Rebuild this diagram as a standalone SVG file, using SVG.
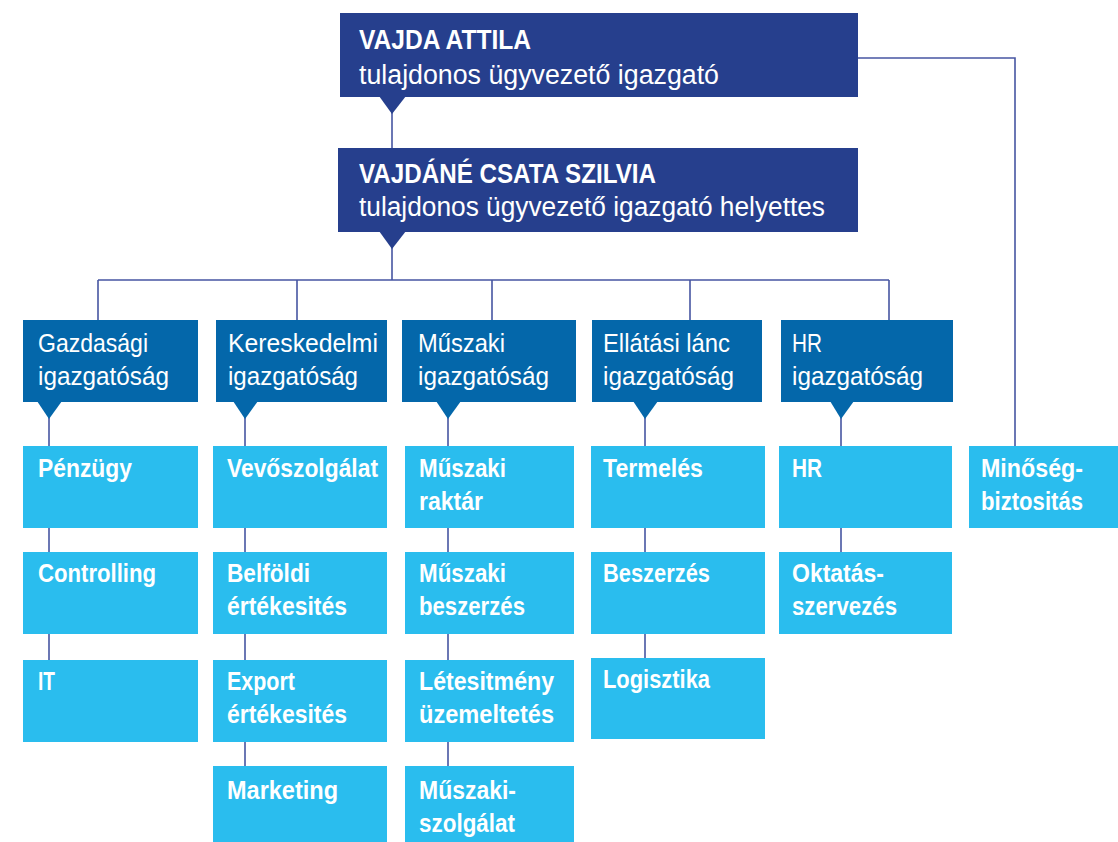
<svg xmlns="http://www.w3.org/2000/svg" width="1118" height="842" viewBox="0 0 1118 842">
<style>
.top{fill:#263f8d}
.hdr{fill:#0467aa}
.leaf{fill:#2abdee}
.t{font-family:"Liberation Sans",Arial,sans-serif;fill:#ffffff}
.t1{font-size:28px;font-weight:bold}
.t2{font-size:27px}
.th{font-size:25.5px}
.tl{font-size:25.5px;font-weight:bold}
.ln{fill:none;stroke:#4756a2;stroke-width:1.6}
</style>
<g id="connectors">
<path class="ln" d="M392 112V149M392 247V280M98 280H889M98 280V320M297 280V320M492 280V320M690 280V320M889 280V320"/>
<path class="ln" d="M858 58H1015V446"/>
<path class="ln" d="M49 417V446M49 528V552M49 634V660"/>
<path class="ln" d="M245 417V446M245 528V552M245 634V660M245 742V766"/>
<path class="ln" d="M448 417V446M448 528V552M448 634V660M448 742V766"/>
<path class="ln" d="M645 417V446M645 528V552M645 634V658"/>
<path class="ln" d="M841 417V446M841 528V552"/>
</g>
<g id="vajda-attila">
<rect class="top" x="340" y="13" width="518" height="84"/>
<polygon class="top" points="379,96 406,96 392,114"/>
<text class="t t1" x="359" y="49" textLength="172" lengthAdjust="spacingAndGlyphs">VAJDA ATTILA</text>
<text class="t t2" x="359" y="84" textLength="360" lengthAdjust="spacingAndGlyphs">tulajdonos ügyvezető igazgató</text>
</g>
<g id="vajdane-csata-szilvia">
<rect class="top" x="338" y="148" width="520" height="84"/>
<polygon class="top" points="379,231 406,231 392,249"/>
<text class="t t1" x="359" y="183" textLength="297" lengthAdjust="spacingAndGlyphs">VAJDÁNÉ CSATA SZILVIA</text>
<text class="t t2" x="359" y="216" textLength="466" lengthAdjust="spacingAndGlyphs">tulajdonos ügyvezető igazgató helyettes</text>
</g>
<g id="gazdasagi">
<rect class="hdr" x="23" y="320" width="175" height="82"/>
<polygon class="hdr" points="37,401 62,401 49,419"/>
<text class="t th" x="38" y="352" textLength="110" lengthAdjust="spacingAndGlyphs">Gazdasági</text>
<text class="t th" x="38" y="385" textLength="131" lengthAdjust="spacingAndGlyphs">igazgatóság</text>
</g>
<g id="kereskedelmi">
<rect class="hdr" x="216" y="320" width="171" height="82"/>
<polygon class="hdr" points="233,401 258,401 245,419"/>
<text class="t th" x="228" y="352" textLength="150" lengthAdjust="spacingAndGlyphs">Kereskedelmi</text>
<text class="t th" x="228" y="385" textLength="130" lengthAdjust="spacingAndGlyphs">igazgatóság</text>
</g>
<g id="muszaki">
<rect class="hdr" x="402" y="320" width="174" height="82"/>
<polygon class="hdr" points="436,401 461,401 448,419"/>
<text class="t th" x="418" y="352" textLength="87" lengthAdjust="spacingAndGlyphs">Műszaki</text>
<text class="t th" x="418" y="385" textLength="131" lengthAdjust="spacingAndGlyphs">igazgatóság</text>
</g>
<g id="ellatasi-lanc">
<rect class="hdr" x="592" y="320" width="170" height="82"/>
<polygon class="hdr" points="633,401 658,401 645,419"/>
<text class="t th" x="603" y="352" textLength="127" lengthAdjust="spacingAndGlyphs">Ellátási lánc</text>
<text class="t th" x="603" y="385" textLength="131" lengthAdjust="spacingAndGlyphs">igazgatóság</text>
</g>
<g id="hr-igazgatosag">
<rect class="hdr" x="781" y="320" width="172" height="82"/>
<polygon class="hdr" points="830,401 854,401 841,419"/>
<text class="t th" x="792" y="352" textLength="30" lengthAdjust="spacingAndGlyphs">HR</text>
<text class="t th" x="792" y="385" textLength="131" lengthAdjust="spacingAndGlyphs">igazgatóság</text>
</g>
<g id="penzugy">
<rect class="leaf" x="23" y="446" width="175" height="82"/>
<text class="t tl" x="38" y="477" textLength="94" lengthAdjust="spacingAndGlyphs">Pénzügy</text>
</g>
<g id="controlling">
<rect class="leaf" x="23" y="552" width="175" height="82"/>
<text class="t tl" x="38" y="582" textLength="118" lengthAdjust="spacingAndGlyphs">Controlling</text>
</g>
<g id="it">
<rect class="leaf" x="23" y="660" width="175" height="82"/>
<text class="t tl" x="38" y="690" textLength="17" lengthAdjust="spacingAndGlyphs">IT</text>
</g>
<g id="vevoszolgalat">
<rect class="leaf" x="213" y="446" width="174" height="82"/>
<text class="t tl" x="227" y="477" textLength="151" lengthAdjust="spacingAndGlyphs">Vevőszolgálat</text>
</g>
<g id="belfoldi-ertekesites">
<rect class="leaf" x="213" y="552" width="174" height="82"/>
<text class="t tl" x="227" y="582" textLength="83" lengthAdjust="spacingAndGlyphs">Belföldi</text>
<text class="t tl" x="227" y="615" textLength="120" lengthAdjust="spacingAndGlyphs">értékesités</text>
</g>
<g id="export-ertekesites">
<rect class="leaf" x="213" y="660" width="174" height="82"/>
<text class="t tl" x="227" y="690" textLength="68" lengthAdjust="spacingAndGlyphs">Export</text>
<text class="t tl" x="227" y="723" textLength="120" lengthAdjust="spacingAndGlyphs">értékesités</text>
</g>
<g id="marketing">
<rect class="leaf" x="213" y="766" width="174" height="76"/>
<text class="t tl" x="227" y="799" textLength="111" lengthAdjust="spacingAndGlyphs">Marketing</text>
</g>
<g id="muszaki-raktar">
<rect class="leaf" x="405" y="446" width="169" height="82"/>
<text class="t tl" x="419" y="477" textLength="87" lengthAdjust="spacingAndGlyphs">Műszaki</text>
<text class="t tl" x="419" y="510" textLength="64" lengthAdjust="spacingAndGlyphs">raktár</text>
</g>
<g id="muszaki-beszerzes">
<rect class="leaf" x="405" y="552" width="169" height="82"/>
<text class="t tl" x="419" y="582" textLength="87" lengthAdjust="spacingAndGlyphs">Műszaki</text>
<text class="t tl" x="419" y="615" textLength="106" lengthAdjust="spacingAndGlyphs">beszerzés</text>
</g>
<g id="letesitmeny">
<rect class="leaf" x="405" y="660" width="169" height="82"/>
<text class="t tl" x="419" y="690" textLength="135" lengthAdjust="spacingAndGlyphs">Létesitmény</text>
<text class="t tl" x="419" y="723" textLength="135" lengthAdjust="spacingAndGlyphs">üzemeltetés</text>
</g>
<g id="muszaki-szolgalat">
<rect class="leaf" x="405" y="766" width="169" height="76"/>
<text class="t tl" x="419" y="799" textLength="97" lengthAdjust="spacingAndGlyphs">Műszaki-</text>
<text class="t tl" x="419" y="832" textLength="96" lengthAdjust="spacingAndGlyphs">szolgálat</text>
</g>
<g id="termeles">
<rect class="leaf" x="591" y="446" width="174" height="82"/>
<text class="t tl" x="603" y="477" textLength="100" lengthAdjust="spacingAndGlyphs">Termelés</text>
</g>
<g id="beszerzes">
<rect class="leaf" x="591" y="552" width="174" height="82"/>
<text class="t tl" x="603" y="582" textLength="107" lengthAdjust="spacingAndGlyphs">Beszerzés</text>
</g>
<g id="logisztika">
<rect class="leaf" x="591" y="658" width="174" height="81"/>
<text class="t tl" x="603" y="688" textLength="107" lengthAdjust="spacingAndGlyphs">Logisztika</text>
</g>
<g id="hr">
<rect class="leaf" x="779" y="446" width="173" height="82"/>
<text class="t tl" x="792" y="477" textLength="30" lengthAdjust="spacingAndGlyphs">HR</text>
</g>
<g id="oktatasszervezes">
<rect class="leaf" x="779" y="552" width="173" height="82"/>
<text class="t tl" x="792" y="582" textLength="92" lengthAdjust="spacingAndGlyphs">Oktatás-</text>
<text class="t tl" x="792" y="615" textLength="105" lengthAdjust="spacingAndGlyphs">szervezés</text>
</g>
<g id="minosegbiztositas">
<rect class="leaf" x="969" y="446" width="149" height="82"/>
<text class="t tl" x="981" y="477" textLength="102" lengthAdjust="spacingAndGlyphs">Minőség-</text>
<text class="t tl" x="981" y="510" textLength="102" lengthAdjust="spacingAndGlyphs">biztositás</text>
</g>
</svg>
